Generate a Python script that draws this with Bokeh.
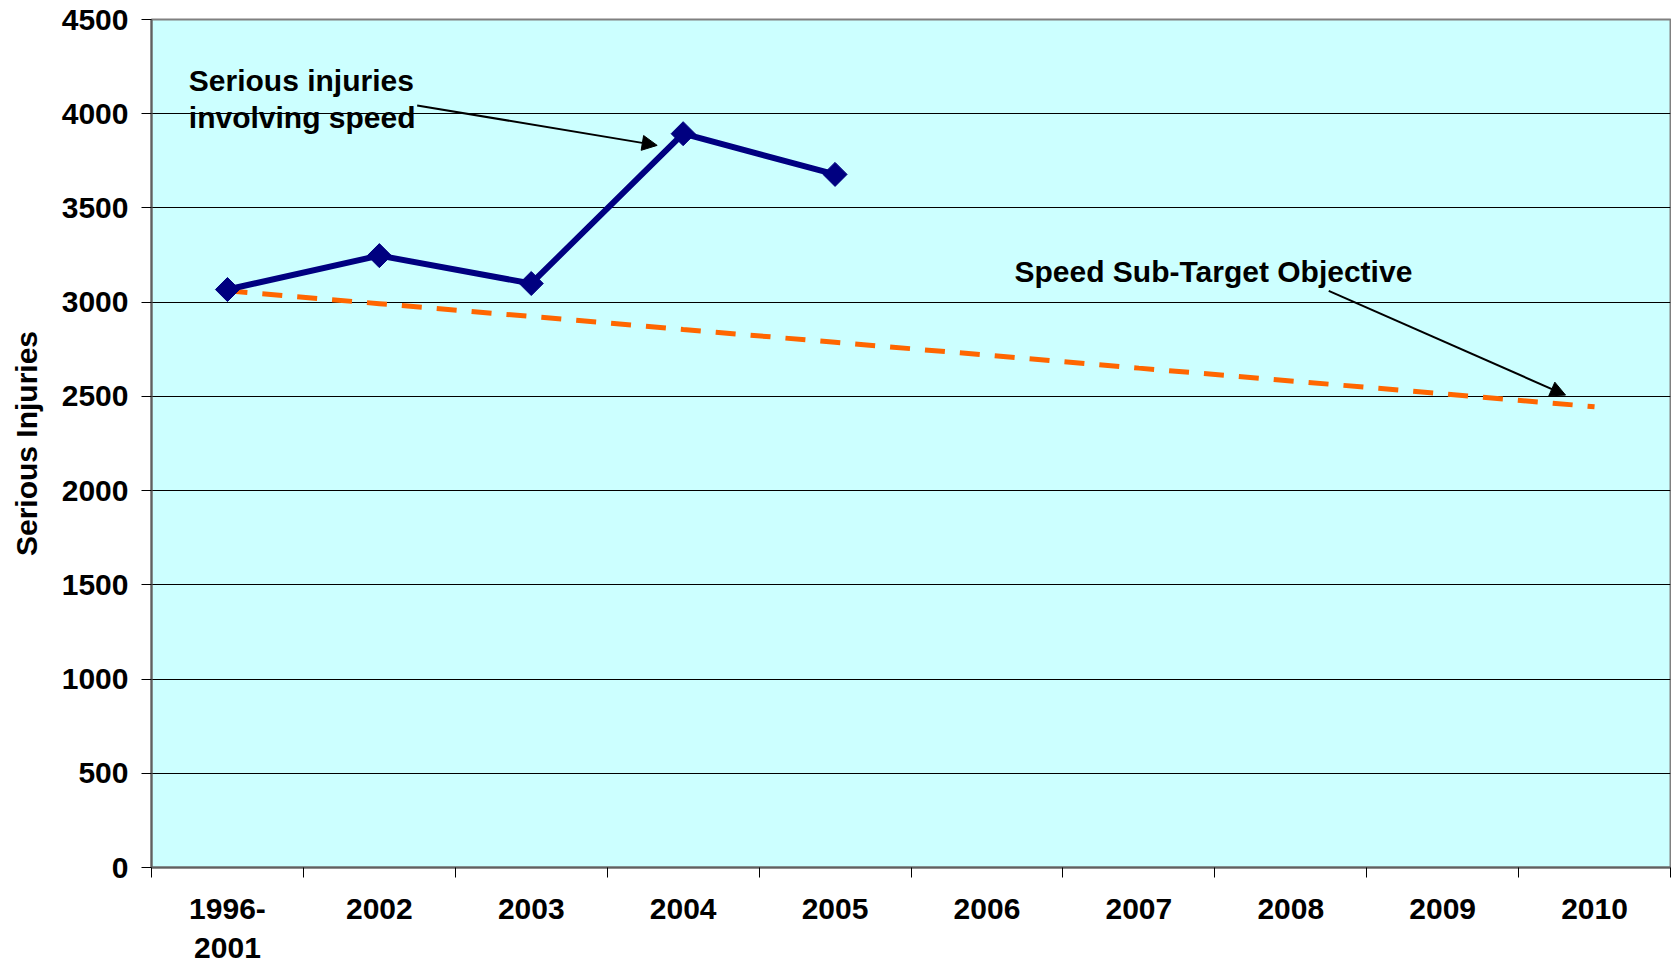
from bokeh.plotting import figure
from bokeh.models import Range1d, FixedTicker, Arrow, NormalHead, Label, ColumnDataSource
from bokeh.embed import file_html
from bokeh.resources import INLINE

# ---- data ----
categories = ["1996-\n2001", "2002", "2003", "2004", "2005",
              "2006", "2007", "2008", "2009", "2010"]
injury_categories = ["1996-\n2001", "2002", "2003", "2004", "2005"]
serious_injuries_speed = [3067, 3247, 3099, 3894, 3678]
target_categories = categories
speed_sub_target = [3060, 2992, 2924, 2855, 2787, 2719, 2650, 2582, 2514, 2445]
y_ticks = [0, 500, 1000, 1500, 2000, 2500, 3000, 3500, 4000, 4500]

FONT = "Liberation Sans"
FS = "30px"

pos = {c: i + 0.5 for i, c in enumerate(categories)}

p = figure(width=1671, height=966, output_backend="svg", toolbar_location=None,
           x_range=Range1d(0, len(categories)), y_range=Range1d(0, 4500),
           min_border_left=151, min_border_right=1, min_border_top=19,
           min_border_bottom=98)
p.background_fill_color = "#CCFFFF"
p.border_fill_color = "white"
p.outline_line_color = "#808080"
p.outline_line_width = 2

# grid
p.xgrid.grid_line_color = None
p.ygrid.grid_line_color = "black"
p.ygrid.grid_line_width = 1
p.ygrid.ticker = FixedTicker(ticks=y_ticks)

# y axis
p.yaxis.ticker = FixedTicker(ticks=y_ticks)
p.yaxis.major_label_text_font = FONT
p.yaxis.major_label_text_font_size = FS
p.yaxis.major_label_text_font_style = "bold"
p.yaxis.major_label_text_color = "black"
p.yaxis.major_tick_out = 10
p.yaxis.major_tick_in = 0
p.yaxis.minor_tick_line_color = None
p.yaxis.major_tick_line_color = "black"
p.yaxis.axis_line_color = "#606060"
p.yaxis.axis_line_width = 2
p.yaxis.major_label_standoff = 13
p.yaxis.axis_label = "Serious Injuries"
p.yaxis.axis_label_text_font = FONT
p.yaxis.axis_label_text_font_size = FS
p.yaxis.axis_label_text_font_style = "bold"
p.yaxis.axis_label_text_color = "black"
p.yaxis.axis_label_standoff = 16

# x axis: labels at category centres, tick marks at category boundaries
centres = [pos[c] for c in categories]
bounds = list(range(len(categories) + 1))
p.xaxis.ticker = FixedTicker(ticks=centres, minor_ticks=bounds)
p.xaxis.major_label_overrides = {pos[c]: c for c in categories}
p.xaxis.major_tick_line_color = None
p.xaxis.major_tick_out = 0
p.xaxis.major_tick_in = 0
p.xaxis.minor_tick_line_color = "black"
p.xaxis.minor_tick_out = 10
p.xaxis.minor_tick_in = 0
p.xaxis.axis_line_color = "#606060"
p.xaxis.axis_line_width = 2
p.xaxis.major_label_text_font = FONT
p.xaxis.major_label_text_font_size = FS
p.xaxis.major_label_text_font_style = "bold"
p.xaxis.major_label_text_color = "black"
p.xaxis.major_label_text_line_height = 1.19
p.xaxis.major_label_standoff = 14

# target dashed line
tsrc = ColumnDataSource(dict(x=[pos[c] for c in target_categories], y=speed_sub_target))
p.line("x", "y", source=tsrc, line_color="#FF6600", line_width=5, line_dash="20 15")

# injuries line
isrc = ColumnDataSource(dict(x=[pos[c] for c in injury_categories], y=serious_injuries_speed))
p.line("x", "y", source=isrc, line_color="#000080", line_width=6, line_join="miter")
p.scatter("x", "y", source=isrc, marker="square", angle=0.785398, size=17,
          fill_color="#000080", line_color="#000080")

# annotations
lbl = dict(text_font=FONT, text_font_size=FS, text_font_style="bold",
           text_baseline="middle", text_color="black")
p.add_layout(Label(x=0.2456, y=4178, text="Serious injuries", **lbl))
p.add_layout(Label(x=0.2456, y=3979, text="involving speed", **lbl))
p.add_layout(Label(x=5.681, y=3164, text="Speed Sub-Target Objective", **lbl))

p.add_layout(Arrow(x_start=1.749, y_start=4044, x_end=3.329, y_end=3832,
                   line_color="black", line_width=2,
                   end=NormalHead(size=15, fill_color="black", line_color="black")))
p.add_layout(Arrow(x_start=7.750, y_start=3060, x_end=9.309, y_end=2507,
                   line_color="black", line_width=2,
                   end=NormalHead(size=15, fill_color="black", line_color="black")))

open("out.html", "w").write(file_html(p, INLINE))
